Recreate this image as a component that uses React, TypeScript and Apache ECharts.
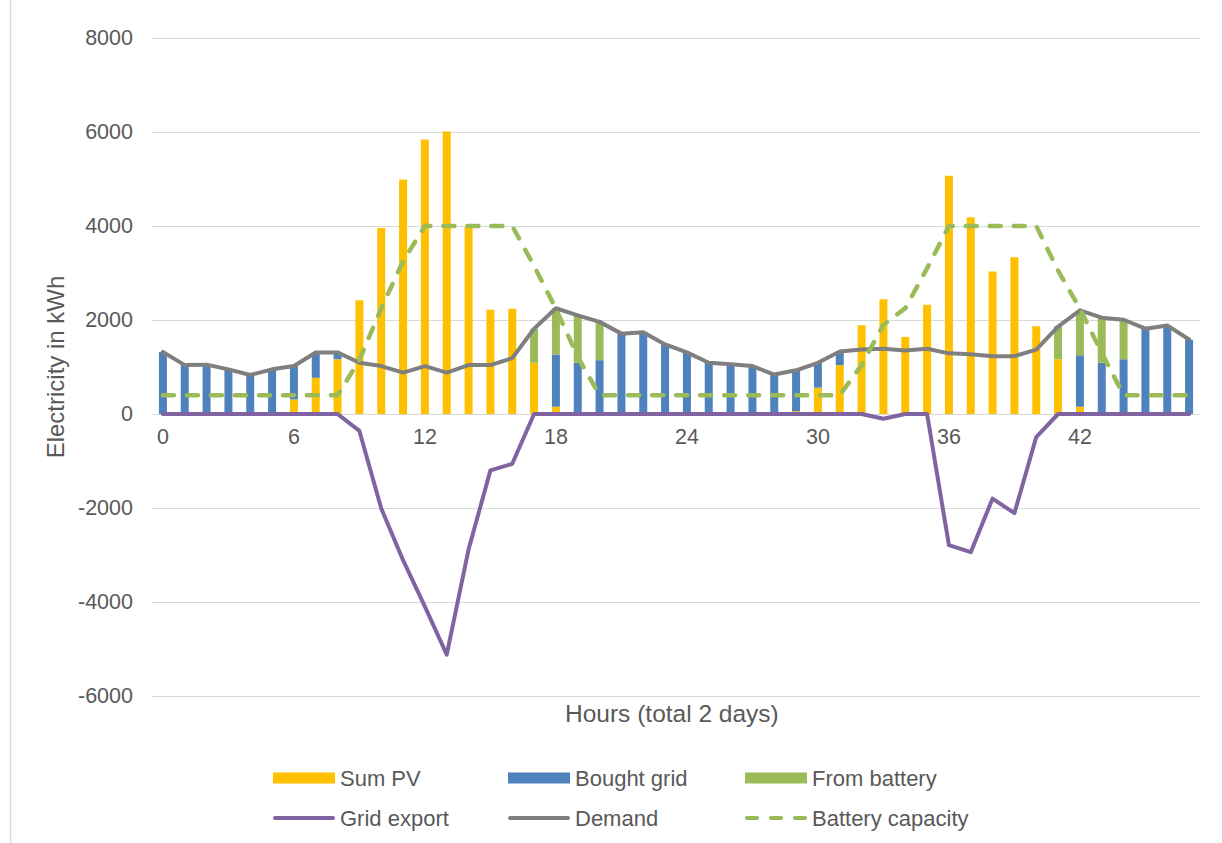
import React, { useEffect, useRef } from "react";
import * as echarts from "echarts";

const hours: string[] = Array.from({ length: 48 }, (_, i) => String(i));

const sumPV = [0, 0, 0, 0, 0, 0, 310, 770, 1165, 2420, 3960, 4990, 5840, 6010, 3980, 2220, 2240, 1090, 155, 0, 0, 0, 0, 0, 0, 0, 0, 0, 0, 60, 560, 1040, 1890, 2440, 1640, 2325, 5070, 4185, 3030, 3335, 1865, 1165, 155, 0, 0, 0, 0, 0];
const boughtGrid = [1320, 1040, 1050, 950, 830, 950, 710, 540, 145, 0, 0, 0, 0, 0, 0, 0, 0, 0, 1110, 1090, 1145, 1710, 1740, 1480, 1310, 1090, 1060, 1020, 840, 870, 530, 290, 0, 0, 0, 0, 0, 0, 0, 0, 0, 0, 1095, 1090, 1165, 1815, 1870, 1580];
const fromBattery = [0, 0, 0, 0, 0, 0, 0, 0, 0, 0, 0, 0, 0, 0, 0, 0, 0, 725, 985, 1010, 815, 0, 0, 0, 0, 0, 0, 0, 0, 0, 0, 0, 0, 0, 0, 0, 0, 0, 0, 0, 0, 705, 950, 960, 840, 0, 0, 0];
const gridExport = [0, 0, 0, 0, 0, 0, 0, 0, 0, -360, -2010, -3110, -4100, -5120, -2880, -1200, -1060, 0, 0, 0, 0, 0, 0, 0, 0, 0, 0, 0, 0, 0, 0, 0, 0, -100, 0, 0, -2790, -2940, -1800, -2110, -490, 0, 0, 0, 0, 0, 0, 0];
const demand = [1320, 1040, 1050, 950, 830, 950, 1020, 1310, 1310, 1090, 1020, 880, 1020, 880, 1040, 1040, 1190, 1815, 2250, 2100, 1960, 1710, 1740, 1480, 1310, 1090, 1060, 1020, 840, 930, 1090, 1330, 1370, 1390, 1350, 1390, 1290, 1270, 1230, 1230, 1370, 1860, 2205, 2050, 2005, 1815, 1885, 1585];
const batteryCapacity = [400, 400, 400, 400, 400, 400, 400, 400, 400, 1150, 2250, 3250, 4000, 4000, 4000, 4000, 4000, 3150, 2240, 1215, 400, 400, 400, 400, 400, 400, 400, 400, 400, 400, 400, 400, 1040, 1900, 2250, 3100, 4000, 4000, 4000, 4000, 4000, 3050, 2240, 1300, 400, 400, 400, 400];

const FONT = '"Liberation Sans", Arial, sans-serif';
const TXT = "#595959";

const LINE_ICON = "path://M2,0 H60 A2,2 0 0 1 60,4 H2 A2,2 0 0 1 2,0 Z";
const DASH_ICON =
  "path://M2,0 H12 A2,2 0 0 1 12,4 H2 A2,2 0 0 1 2,0 Z M26,0 H36 A2,2 0 0 1 36,4 H26 A2,2 0 0 1 26,0 Z M50,0 H60 A2,2 0 0 1 60,4 H50 A2,2 0 0 1 50,0 Z";

export default function App() {
  const ref = useRef<HTMLDivElement>(null);
  useEffect(() => {
    if (!ref.current) return;
    const chart = echarts.init(ref.current, null, { renderer: "svg" });
    const legendBase = {
      orient: "vertical",
      padding: 0,
      itemWidth: 62,
      itemHeight: 11,
      itemGap: 18,
      textStyle: { fontSize: 22, color: TXT, fontFamily: FONT },
    };
    chart.setOption({
      animation: false,
      backgroundColor: "#ffffff",
      textStyle: { fontFamily: FONT },
      grid: { left: 152, right: 22, top: 38, bottom: 147, containLabel: false },
      legend: [
        { ...legendBase, left: 273, top: 767, data: [{ name: "Sum PV", icon: "rect" }, { name: "Grid export", icon: LINE_ICON }] },
        { ...legendBase, left: 508, top: 767, data: [{ name: "Bought grid", icon: "rect" }, { name: "Demand", icon: LINE_ICON }] },
        { ...legendBase, left: 745, top: 767, data: [{ name: "From battery", icon: "rect" }, { name: "Battery capacity", icon: DASH_ICON }] },
      ],
      xAxis: {
        type: "category",
        data: hours,
        boundaryGap: true,
        offset: -282,
        axisTick: { show: false },
        axisLine: { show: false, onZero: false },
        axisLabel: { interval: 5, fontSize: 21.5, color: TXT, margin: 12, fontFamily: FONT },
        splitLine: { show: false },
      },
      yAxis: {
        type: "value",
        min: -6000,
        max: 8000,
        interval: 2000,
        name: "Electricity in kWh",
        nameLocation: "middle",
        nameGap: 80,
        nameTextStyle: { fontSize: 24, color: TXT, fontFamily: FONT },
        axisLine: { show: false },
        axisTick: { show: false },
        axisLabel: {
          fontSize: 21.5,
          color: TXT,
          margin: 19,
          fontFamily: FONT,
          formatter: (v: number) => String(v),
        },
        splitLine: { lineStyle: { color: "#d9d9d9", width: 1 } },
      },
      graphic: [
        {
          type: "text",
          left: 565,
          top: 701,
          style: { text: "Hours (total 2 days)", fill: TXT, font: `24.5px ${FONT}` },
        },
        {
          type: "line",
          shape: { x1: 10.5, y1: 0, x2: 10.5, y2: 843 },
          style: { stroke: "#d9d9d9", lineWidth: 1.5 },
        },
      ],
      series: [
        { name: "Sum PV", type: "bar", stack: "total", data: sumPV, barWidth: 8, itemStyle: { color: "#FFC000" } },
        { name: "Bought grid", type: "bar", stack: "total", data: boughtGrid, barWidth: 8, itemStyle: { color: "#4F81BD" } },
        { name: "From battery", type: "bar", stack: "total", data: fromBattery, barWidth: 8, itemStyle: { color: "#9BBB59" } },
        {
          name: "Grid export",
          type: "line",
          data: gridExport,
          symbol: "none",
          lineStyle: { color: "#8064A2", width: 4, cap: "round", join: "round" },
          itemStyle: { color: "#8064A2" },
        },
        {
          name: "Demand",
          type: "line",
          data: demand,
          symbol: "none",
          lineStyle: { color: "#7F7F7F", width: 4, cap: "round", join: "round" },
          itemStyle: { color: "#7F7F7F" },
        },
        {
          name: "Battery capacity",
          type: "line",
          data: batteryCapacity,
          symbol: "none",
          lineStyle: { color: "#9BBB59", width: 4.5, type: [11, 13], cap: "round", join: "round" },
          itemStyle: { color: "#9BBB59" },
        },
      ],
    });
    return () => chart.dispose();
  }, []);
  return (
    <div
      ref={ref}
      style={{ position: "fixed", left: 0, top: 0, width: 1222, height: 843, background: "#fff" }}
    />
  );
}
